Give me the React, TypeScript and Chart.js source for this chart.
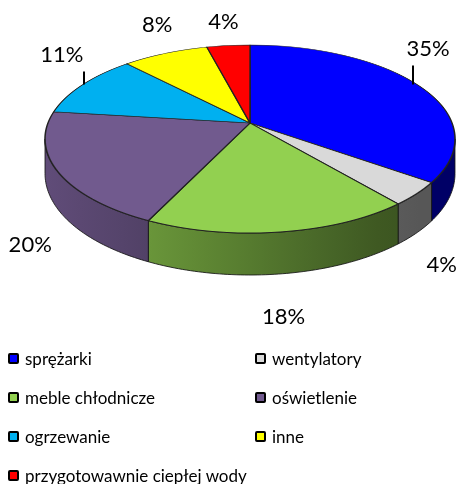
import React, { useEffect, useRef } from "react";
import { Chart, registerables } from "chart.js";

Chart.register(...registerables);

// ---- data ----
const categories = [
  "sprężarki",
  "wentylatory",
  "meble chłodnicze",
  "oświetlenie",
  "ogrzewanie",
  "inne",
  "przygotowawnie ciepłej wody",
];
const values = [35, 4, 18, 20, 11, 8, 4];
const percentLabels = ["35%", "4%", "18%", "20%", "11%", "8%", "4%"];

// ---- styles ----
const topColors = ["#0000FF", "#D9D9D9", "#92D050", "#715A8E", "#00B0F0", "#FFFF00", "#FF0000"];
// label nudges relative to the projected rim point at each slice's mid angle
const labelNudges: [number, number][] = [
  [11, -36],
  [25, 71],
  [3, 85],
  [-27, 74],
  [-21, -30],
  [-8, -28],
  [-5, -24],
];
const leaderDx: (number | null)[] = [-15, null, null, null, 22, null, null];

const W = 463;
const H = 484;
// perspective view of the pie disc
const VX = 250; // screen x of the disc centre
const VY = 123; // screen y of the disc centre (apex)
const VA = 202; // horizontal half size at the centre line
const VB = 91.3; // vertical scale
const VK = -0.17; // perspective factor
const D0 = 33; // wall depth at the sides
const DK = 9; // extra wall depth at the front

function project(t: number) {
  const den = 1 + VK * Math.sin(t);
  return [VX + (VA * Math.cos(t)) / den, VY + (VB * Math.sin(t)) / den];
}

function hexToRgb(h: string) {
  const n = parseInt(h.slice(1), 16);
  return [(n >> 16) & 255, (n >> 8) & 255, n & 255];
}
function shade(h: string, f: number) {
  const [r, g, b] = hexToRgb(h);
  return `rgb(${Math.round(r * f)},${Math.round(g * f)},${Math.round(b * f)})`;
}
function lightAt(x: number) {
  const f = 0.85 - (x - 45) * 0.00127;
  return Math.max(0.4, Math.min(0.88, f));
}

const pie3d = {
  id: "pie3d",
  beforeDatasetsDraw(chart: any) {
    const ctx: CanvasRenderingContext2D = chart.ctx;
    const dpr = chart.currentDevicePixelRatio || 1;
    const meta = chart.getDatasetMeta(0);
    const arcs = meta.data;
    if (!arcs.length) return false;
    const cxC = arcs[0].x;
    const cyC = arcs[0].y;
    const R = arcs[0].outerRadius;

    // ---- side walls ----
    const ts = Math.asin(-VK); // silhouette angle
    arcs.forEach((arc: any, i: number) => {
      const a1 = Math.max(arc.startAngle, ts);
      const a2 = Math.min(arc.endAngle, Math.PI - ts);
      if (a2 <= a1) return;
      const n = Math.max(2, Math.ceil(((a2 - a1) * 180) / Math.PI));
      const top: number[][] = [];
      for (let j = 0; j <= n; j++) top.push(project(a1 + ((a2 - a1) * j) / n));
      const grad = ctx.createLinearGradient(VX - VA - 10, 0, VX + VA + 10, 0);
      for (let k = 0; k <= 10; k++) {
        const x = VX - VA - 10 + ((2 * VA + 20) * k) / 10;
        grad.addColorStop(k / 10, shade(topColors[i], lightAt(x)));
      }
      ctx.save();
      ctx.beginPath();
      top.forEach((p, j) => (j === 0 ? ctx.moveTo(p[0], p[1]) : ctx.lineTo(p[0], p[1])));
      for (let j = n; j >= 0; j--) {
        const t = a1 + ((a2 - a1) * j) / n;
        const d = D0 + DK * Math.max(0, Math.sin(t));
        ctx.lineTo(top[j][0], top[j][1] + d);
      }
      ctx.closePath();
      ctx.fillStyle = grad;
      ctx.fill();
      ctx.lineWidth = 1;
      ctx.lineJoin = "round";
      ctx.strokeStyle = "rgba(20,20,20,0.85)";
      ctx.stroke();
      ctx.restore();
    });

    // ---- top faces: library arcs, drawn row by row in perspective ----
    const vTop = Math.floor(VY - VB / (1 - VK)) - 1;
    const vBot = Math.ceil(VY + VB / (1 + VK)) + 1;
    for (let v = vTop; v <= vBot; v++) {
      const vm = v + 0.5 - VY;
      const y = vm / (VB - VK * vm);
      if (Math.abs(y) > 1.03) continue;
      const den = 1 + VK * y;
      const sx = VA / (den * R);
      const sy = VB / (den * den * R);
      const e = VX - sx * cxC;
      const f = v + 0.5 - sy * (cyC + R * y);
      ctx.save();
      ctx.setTransform(dpr, 0, 0, dpr, 0, 0);
      ctx.beginPath();
      ctx.rect(0, v, W, 1);
      ctx.clip();
      ctx.setTransform(dpr * sx, 0, 0, dpr * sy, dpr * e, dpr * f);
      meta.controller.draw();
      ctx.restore();
    }

    // ---- percentage labels ----
    ctx.save();
    ctx.font = "22px Lato";
    ctx.fillStyle = "#000";
    ctx.textAlign = "center";
    ctx.textBaseline = "middle";
    arcs.forEach((arc: any, i: number) => {
      const mid = (arc.startAngle + arc.endAngle) / 2;
      const [ax, ay] = project(mid);
      const lx = ax + labelNudges[i][0];
      const ly = ay + labelNudges[i][1];
      ctx.fillText(percentLabels[i], lx, ly);
      const ld = leaderDx[i];
      if (ld !== null) {
        const x = Math.round(lx + ld);
        ctx.beginPath();
        ctx.moveTo(x, ly + 17);
        ctx.lineTo(x, ay);
        ctx.lineWidth = 2;
        ctx.strokeStyle = "#000";
        ctx.stroke();
      }
    });
    ctx.restore();
    return false;
  },
};

export default function App() {
  const ref = useRef<HTMLCanvasElement>(null);
  useEffect(() => {
    if (!ref.current) return;
    const chart = new Chart(ref.current, {
      type: "pie",
      data: {
        labels: categories,
        datasets: [
          {
            data: values,
            backgroundColor: topColors,
            borderColor: "#222",
            borderWidth: 1.5,
            borderJoinStyle: "round",
          } as any,
        ],
      },
      options: {
        responsive: false,
        animation: false,
        events: [],
        radius: VA,
        layout: { padding: { left: 2 * VX - W, right: 0, top: 0, bottom: H - 2 * VY } },
        plugins: { legend: { display: false }, tooltip: { enabled: false } },
      } as any,
      plugins: [pie3d],
    });
    return () => chart.destroy();
  }, []);

  return (
    <div style={{ position: "fixed", left: 0, top: 0, width: W, height: H, background: "#fff" }}>
      <canvas ref={ref} width={W} height={H} style={{ position: "absolute", left: 0, top: 0 }} />
      <div
        style={{
          position: "absolute",
          left: 8,
          top: 348,
          display: "grid",
          gridTemplateColumns: "247px 200px",
          gridAutoRows: "20px",
          rowGap: "19px",
          fontFamily: "Lato, sans-serif",
          fontSize: 17,
          color: "#000",
        }}
      >
        {categories.map((c, i) => (
          <div key={c} style={{ display: "flex", alignItems: "center", whiteSpace: "nowrap" }}>
            <span
              style={{
                display: "inline-block",
                width: 7,
                height: 7,
                border: "2px solid #000",
                borderRadius: 2,
                background: topColors[i],
                marginRight: 6,
                flex: "none",
              }}
            />
            <span>{c}</span>
          </div>
        ))}
      </div>
    </div>
  );
}
